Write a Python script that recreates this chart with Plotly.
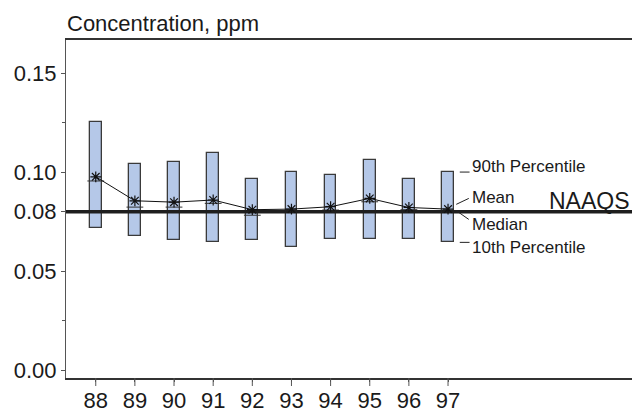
import plotly.graph_objects as go

years = [88, 89, 90, 91, 92, 93, 94, 95, 96, 97]
year_labels = ["88", "89", "90", "91", "92", "93", "94", "95", "96", "97"]
p90 = [0.1253, 0.1040, 0.1052, 0.1094, 0.0963, 0.1001, 0.0983, 0.1059, 0.0963, 0.1000]
p10 = [0.0717, 0.0677, 0.0655, 0.0645, 0.0655, 0.0620, 0.0663, 0.0663, 0.0663, 0.0645]
mean = [0.0976, 0.0855, 0.0848, 0.0859, 0.0810, 0.0813, 0.0825, 0.0867, 0.0821, 0.0813]
median = [0.0955, 0.0823, 0.0823, 0.0842, 0.0782, 0.0802, 0.0808, 0.0850, 0.0810, 0.0802]
naaqs = 0.08
y_ticks = [0.0, 0.05, 0.08, 0.10, 0.15]
y_tick_labels = ["0.00", "0.05", "0.08", "0.10", "0.15"]

FONT = "Liberation Sans, Arial, Helvetica, sans-serif"
X_RANGE = [87.24, 101.7]
Y_RANGE = [-0.004, 0.1667]
PLOT_H = 412 - 40 - 34

fig = go.Figure()

fig.add_trace(go.Bar(
    x=years, y=[a - b for a, b in zip(p90, p10)], base=p10, width=0.3,
    marker=dict(color="#b5c8e8", line=dict(color="#3a3a3a", width=1.3)),
    hoverinfo="skip", showlegend=False,
))

fig.add_trace(go.Scatter(
    x=years, y=median, mode="markers",
    marker=dict(symbol="line-ew", size=12, line=dict(color="#333333", width=1)),
    showlegend=False, hoverinfo="skip",
))

fig.add_trace(go.Scatter(
    x=X_RANGE, y=[naaqs, naaqs], mode="lines",
    line=dict(color="#1e1e1e", width=3.5), showlegend=False, hoverinfo="skip",
))

fig.add_trace(go.Scatter(
    x=years, y=mean, mode="lines+markers",
    line=dict(color="#111111", width=1),
    marker=dict(symbol="asterisk-open", size=9, line=dict(color="#000000", width=1.2)),
    showlegend=False, hoverinfo="skip",
))

# x tick marks (longer than the label offset)
for yr in years:
    fig.add_shape(type="line", x0=yr, x1=yr, y0=0, y1=-8 / PLOT_H, xref="x", yref="paper",
                  line=dict(color="#555555", width=1))

# legend leader lines beside the last box
lx = years[-1]
leaders = [
    (lx + 0.30, p90[-1], lx + 0.55, p90[-1]),
    (lx + 0.21, 0.0837, lx + 0.53, 0.0867),
    (lx + 0.21, 0.0805, lx + 0.53, 0.0761),
    (lx + 0.30, p10[-1], lx + 0.55, p10[-1]),
]
for x0, y0, x1, y1 in leaders:
    fig.add_shape(type="line", x0=x0, y0=y0, x1=x1, y1=y1, xref="x", yref="y",
                  line=dict(color="#222222", width=1))

labels = [("90th Percentile", 0.1030), ("Mean", 0.0874), ("Median", 0.0737), ("10th Percentile", 0.0619)]
for txt, yv in labels:
    fig.add_annotation(x=lx + 0.56, y=yv, xref="x", yref="y", text=txt, showarrow=False,
                       xanchor="left", yanchor="middle", font=dict(family=FONT, size=17, color="#1a1a1a"))

fig.add_annotation(x=1, y=0.0855, xref="paper", yref="y", text="NAAQS", showarrow=False,
                   xanchor="right", yanchor="middle", font=dict(family=FONT, size=23, color="#1a1a1a"))

fig.add_annotation(x=0, y=1, xref="paper", yref="paper", text="Concentration, ppm", showarrow=False,
                   xanchor="left", yanchor="bottom", yshift=2, xshift=-1,
                   font=dict(family=FONT, size=22, color="#1a1a1a"))

fig.update_layout(
    width=632, height=412,
    margin=dict(l=66, r=0, t=40, b=34),
    paper_bgcolor="white", plot_bgcolor="white",
    font=dict(family=FONT, size=22, color="#1a1a1a"),
    bargap=0,
)

fig.update_xaxes(
    range=X_RANGE, tickvals=years, ticktext=year_labels, automargin=False,
    showgrid=False, zeroline=False,
    showline=True, linecolor="#333333", linewidth=2, mirror=True,
    ticks="outside", ticklen=2, tickcolor="#555555", tickwidth=1,
    tickfont=dict(family=FONT, size=22, color="#1a1a1a"),
)
fig.update_yaxes(
    range=Y_RANGE, tickvals=y_ticks, ticktext=y_tick_labels, automargin=False,
    showgrid=False, zeroline=False,
    showline=True, linecolor="#555555", linewidth=1,
    ticks="outside", ticklen=4, tickcolor="#555555", tickwidth=1,
    tickfont=dict(family=FONT, size=22, color="#1a1a1a"),
    minor=dict(tickvals=[0.025, 0.125], ticks="outside", ticklen=3, tickcolor="#555555"),
)

fig.write_html("out.html")
